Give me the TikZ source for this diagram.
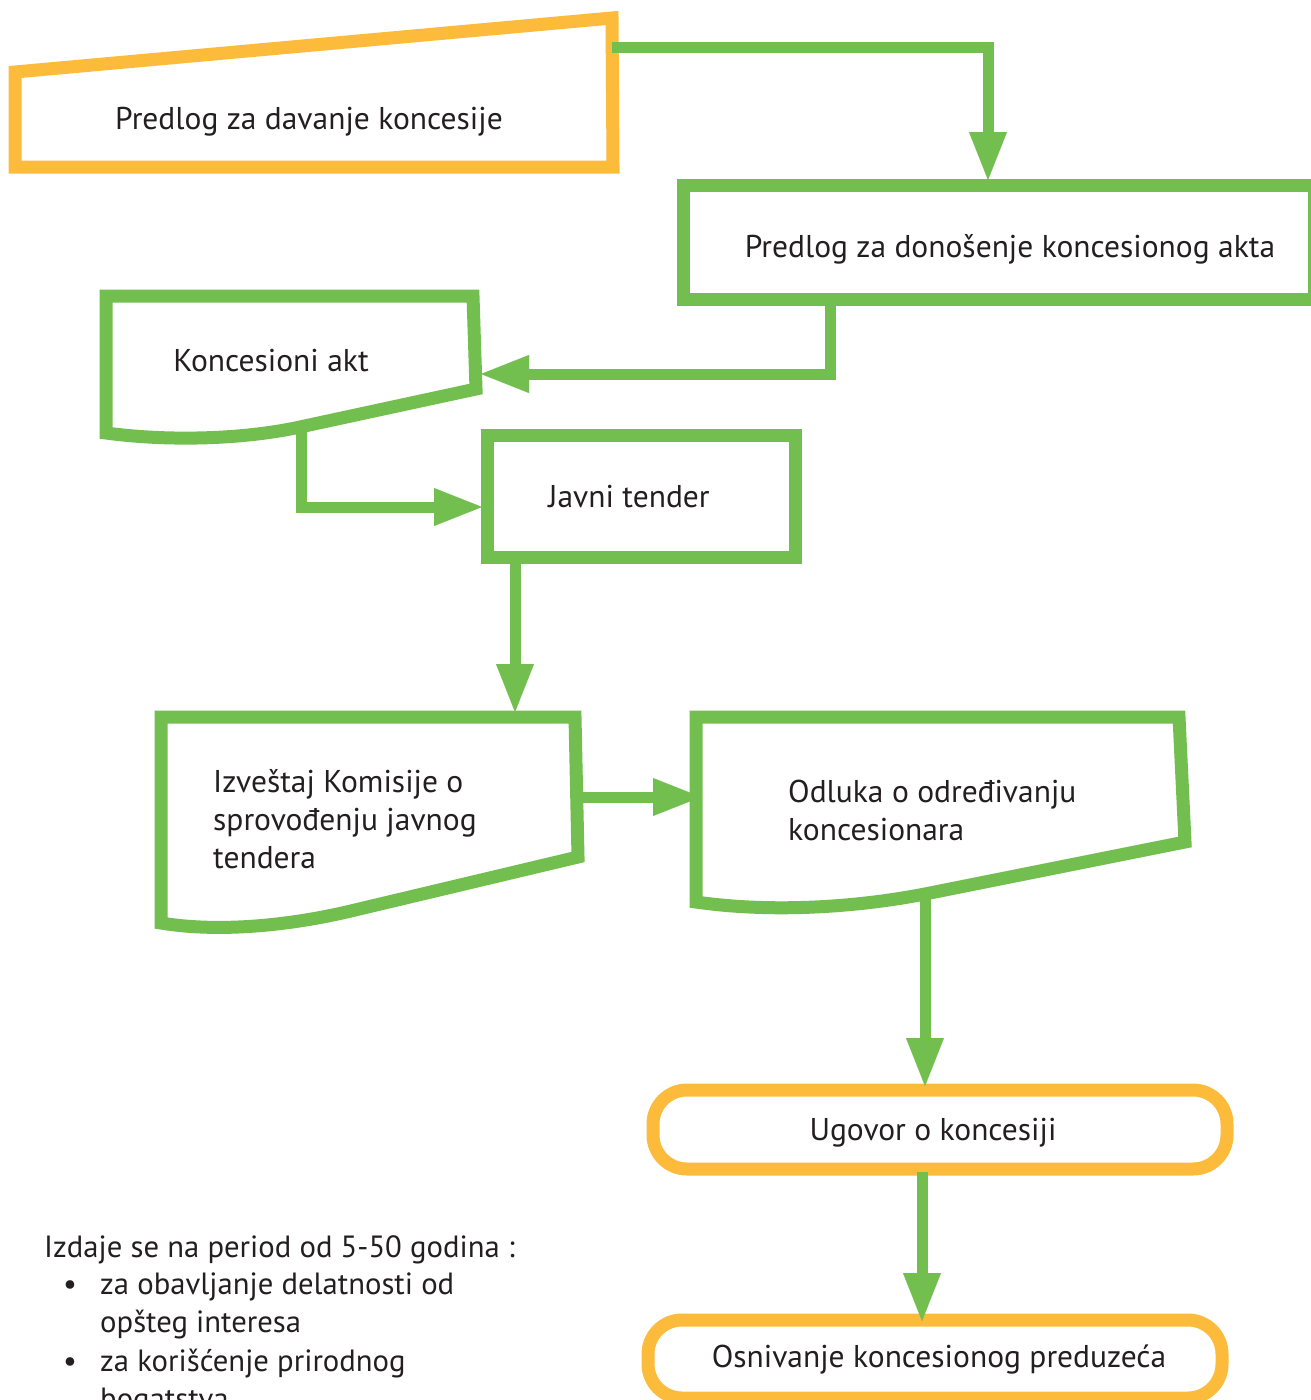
\documentclass[tikz,border=0pt]{standalone}
\usepackage{fontspec}
\setmainfont{PT Sans}
\usetikzlibrary{arrows.meta}
\definecolor{ylw}{RGB}{252,187,58}
\definecolor{grn}{RGB}{114,191,80}
\definecolor{ink}{RGB}{35,31,32}
\begin{document}
\begin{tikzpicture}[x=1pt,y=-1pt,
  ybox/.style={draw=ylw, line width=13pt, line join=miter},
  gbox/.style={draw=grn, line width=13pt, line join=miter},
  rbox/.style={draw=ylw, line width=13pt, rounded corners=34pt},
  conn/.style={draw=grn, line width=11pt, line join=miter,
    -{Triangle[length=48pt,width=38pt,line width=0.01pt]}},
  lbl/.style={text=ink, font=\fontsize{31.5}{38}\selectfont, inner sep=0pt, anchor=base},
  lbll/.style={lbl, anchor=base west, align=left},
  notetxt/.style={lbll, font=\fontsize{30.7}{38}\selectfont}
]
\useasboundingbox (0,0) rectangle (1311,1400);
\clip (0,0) rectangle (1311,1400);

% ---- shapes ----
% manual input: proposal
\draw[ybox] (15,72) -- (612,18) -- (613,167) -- (15,167) -- cycle;
\node[lbl] (tProp) at (309,129) {Predlog za davanje koncesije};

% proposal for the concession act
\draw[gbox] (683,185) rectangle (1314,299);
\node[lbl] (tAct) at (1010,257) {Predlog za donošenje koncesionog akta};

% document: concession act
\draw[gbox] (106,296) -- (473,296) -- (476,389) -- (300,427)
  .. controls (240,440) and (165,441) .. (106,433) -- cycle;
\node[lbl] (tKA) at (271,371) {Koncesioni akt};

% public tender
\draw[gbox] (487,435) rectangle (795,557);
\node[lbl] (tJT) at (629,507) {Javni tender};

% document: commission report (multi-line labels sit on their last baseline)
\draw[gbox] (161,717) -- (575,717) -- (578,857) -- (355,910)
  .. controls (285,927) and (215,932) .. (161,923) -- cycle;
\node[lbll] (tIz) at (213,868) {Izveštaj Komisije o\\sprovođenju javnog\\tendera};

% document: decision
\draw[gbox] (696,717) -- (1179,717) -- (1185,842) -- (930,893)
  .. controls (850,909) and (765,912) .. (696,902) -- cycle;
\node[lbll] (tOd) at (788,840) {Odluka o određivanju\\koncesionara};

% terminals
\draw[rbox] (653,1090) rectangle (1227,1169);
\node[lbl] (tUg) at (933,1140) {Ugovor o koncesiji};
\draw[rbox] (648,1320) rectangle (1222,1398);
\node[lbl] (tOs) at (939,1367) {Osnivanje koncesionog preduzeća};

% ---- connection points ----
\coordinate (propR) at (612,47);
\coordinate (actT) at (988,180);
\coordinate (actB) at (830,299);
\coordinate (kaR) at (481,374);
\coordinate (kaB) at (301,424);
\coordinate (jtL) at (482,507);
\coordinate (jtB) at (515,557);
\coordinate (izT) at (515,712);
\coordinate (izR) at (578,797);
\coordinate (odL) at (701,797);
\coordinate (odB) at (925,897);
\coordinate (ugT) at (925,1086);
\coordinate (ugB) at (922,1172);
\coordinate (osT) at (922,1321);

% ---- connectors ----
\draw[conn] (propR) -| (actT);
\draw[conn] (actB) |- (kaR);
\draw[conn] (kaB) |- (jtL);
\draw[conn] (jtB) -- (izT);
\draw[conn] (izR) -- (odL);
\draw[conn] (odB) -- (ugT);
\draw[conn] (ugB) -- (osT);

% ---- note ----
\node[notetxt] (note) at (44,1257) {Izdaje se na period od 5-50 godina :};
\node[notetxt] (b1) at (63,1294) {•};
\node[notetxt] (n1) at (100,1332) {za obavljanje delatnosti od\\opšteg interesa};
\node[notetxt] (b2) at (63,1371) {•};
\node[notetxt] (n2) at (100,1409) {za korišćenje prirodnog\\bogatstva};
\end{tikzpicture}
\end{document}
